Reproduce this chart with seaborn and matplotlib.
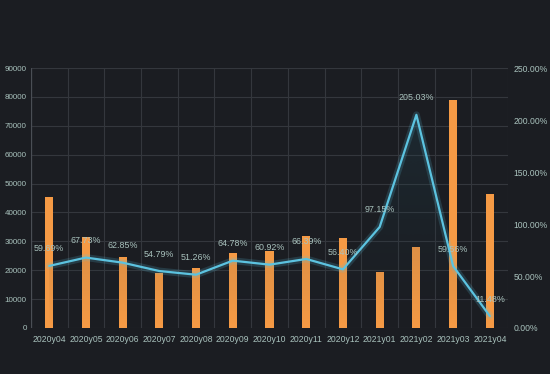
import numpy as np
import pandas as pd
import matplotlib
matplotlib.use("Agg")
import matplotlib.pyplot as plt
import seaborn as sns

months = ["2020y04", "2020y05", "2020y06", "2020y07", "2020y08", "2020y09", "2020y10",
          "2020y11", "2020y12", "2021y01", "2021y02", "2021y03", "2021y04"]
sales = [45500, 31500, 24600, 19000, 20800, 26000, 26500, 32000, 31300, 19500, 28100, 78900, 46400]
ratio = [59.69, 67.73, 62.85, 54.79, 51.26, 64.78, 60.92, 66.39, 56.40, 97.15, 205.03, 59.56, 11.48]
left_ticks = list(range(0, 90001, 10000))
right_ticks = [0, 50, 100, 150, 200, 250]

BG = "#1b1d22"
GRID = "#34373d"
TXT = "#a9c2bd"
ORANGE = "#f59a45"
BLUE = "#5cc3e0"

df = pd.DataFrame({"month": months, "sales": sales, "ratio": ratio})
df["pos"] = range(len(df))

sns.set_style("dark")
plt.rcParams["font.family"] = ["Liberation Sans", "DejaVu Sans"]
fig = plt.figure(figsize=(5.5, 3.74), dpi=100, facecolor=BG)
ax = fig.add_axes([0.056, 0.123, 0.868, 0.695], facecolor=BG)

sns.barplot(data=df, x="month", y="sales", color=ORANGE, saturation=1, width=0.22,
            linewidth=0, edgecolor="none", ax=ax)
ax.set_ylim(0, 90000)
ax.set_yticks(left_ticks)
ax.set_yticklabels([str(t) for t in left_ticks])
ax.set_xlim(-0.5, len(months) - 0.5)
ax.set_xlabel("")
ax.set_ylabel("")
ax.set_xticks(range(len(months)), minor=False)
ax.set_xticks(np.arange(-0.5, len(months), 1), minor=True)
ax.grid(False)
ax.grid(True, which="minor", axis="x", color=GRID, lw=0.8)
ax.grid(True, which="major", axis="y", color=GRID, lw=0.8)
ax.set_axisbelow(True)
ax.tick_params(axis="both", which="both", length=0, colors=TXT, labelsize=5.8, pad=3)
ax.tick_params(axis="x", labelsize=6.2, pad=5)
for s in ax.spines.values():
    s.set_visible(False)
ax.axvline(-0.5, color="#4a4e55", lw=0.9)

ax2 = ax.twinx()
ax2.set_ylim(0, 250)
ax2.set_yticks(right_ticks)
ax2.set_yticklabels([f"{t:.2f}%" for t in right_ticks])
ax2.tick_params(axis="y", length=0, colors=TXT, labelsize=6.2, pad=4)
for s in ax2.spines.values():
    s.set_visible(False)
ax2.grid(False)

# gradient area under the line
x = df["pos"].to_numpy()
y = df["ratio"].to_numpy()
grad = np.linspace(0.3, 0.0, 256).reshape(-1, 1)
cmap = matplotlib.colors.LinearSegmentedColormap.from_list("g", [(0.11, 0.2, 0.24, 0), (0.2, 0.5, 0.6, 1)])
im = ax2.imshow(grad, extent=[x.min(), x.max(), 0, y.max()], aspect="auto",
                cmap=cmap, vmin=0, vmax=1, origin="upper", zorder=1)
poly = ax2.fill_between(x, y, 0, color="none")
im.set_clip_path(poly.get_paths()[0], transform=ax2.transData)
ax2.set_xlim(-0.5, len(months) - 0.5)

# glow + line
ax2.plot(x, y, color=BLUE, lw=5, alpha=0.18, zorder=2)
sns.lineplot(data=df, x="pos", y="ratio", color=BLUE, lw=1.6, ax=ax2, zorder=3)
ax2.set_xlabel("")
ax2.set_ylabel("")

for xi, yi in zip(x, y):
    ax2.annotate(f"{yi:.2f}%", (xi, yi), xytext=(0, 9), textcoords="offset points",
                 ha="center", va="bottom", color=TXT, fontsize=6.4, zorder=4)

fig.savefig("out.png", dpi=100, facecolor=BG)
